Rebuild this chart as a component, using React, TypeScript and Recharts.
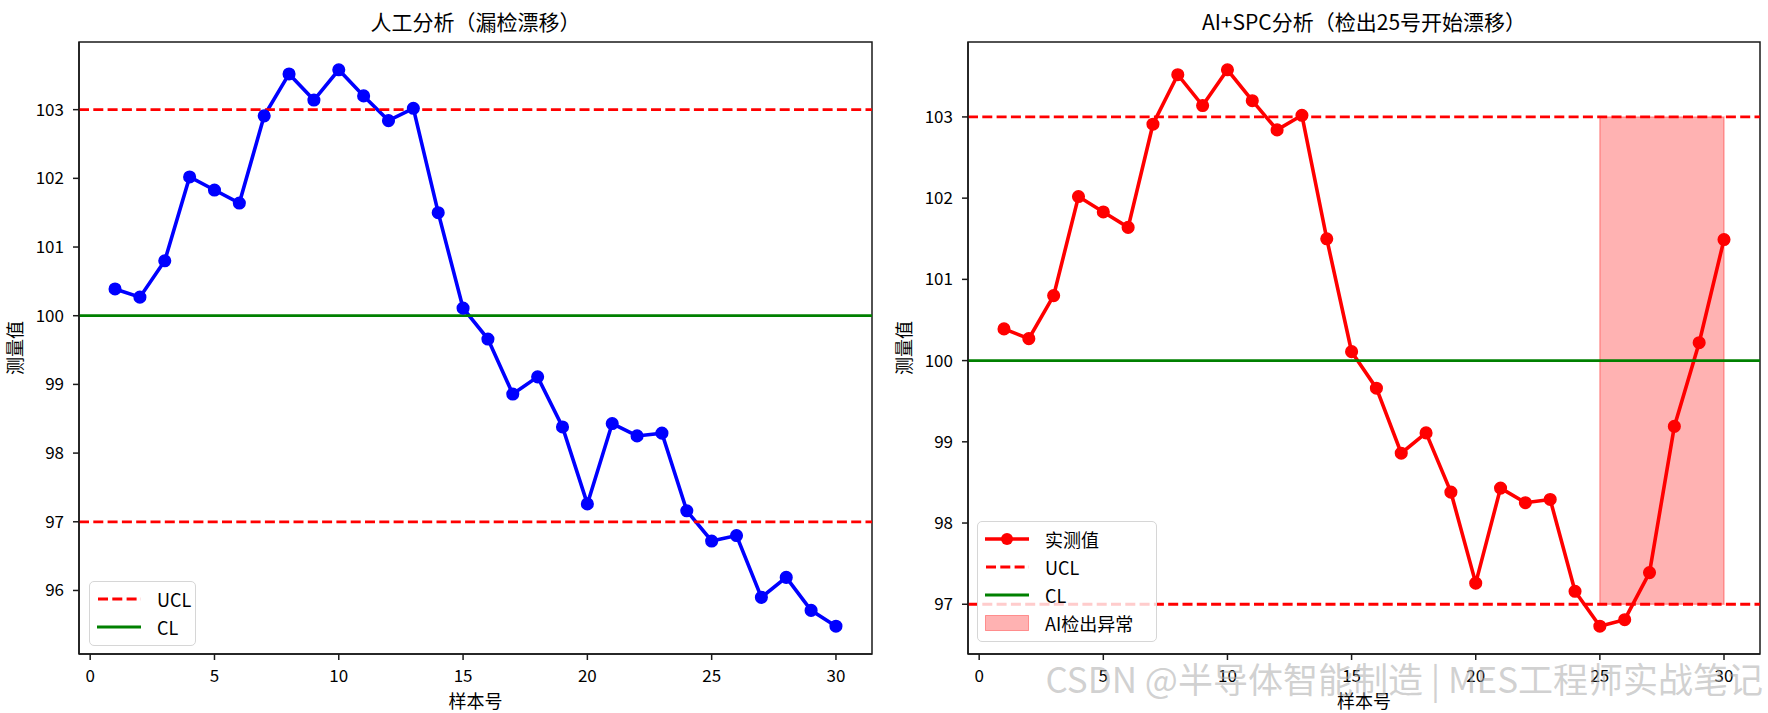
import React from 'react';
import { LineChart, Line, XAxis, YAxis, ReferenceLine, ReferenceArea } from 'recharts';

// sample numbers (x axis)
const samples = [1, 2, 3, 4, 5, 6, 7, 8, 9, 10, 11, 12, 13, 14, 15, 16, 17, 18, 19, 20, 21, 22, 23, 24, 25, 26, 27, 28, 29, 30];

// left panel: manual analysis
const manualValues = [
  100.39, 100.27, 100.8, 102.02, 101.83, 101.64, 102.91, 103.52, 103.14, 103.58,
  103.2, 102.84, 103.02, 101.5, 100.11, 99.66, 98.86, 99.11, 98.38, 97.26,
  98.43, 98.25, 98.29, 97.16, 96.72, 96.8, 95.9, 96.19, 95.71, 95.48,
];

// right panel: AI + SPC
const aiValues = [
  100.39, 100.27, 100.8, 102.02, 101.83, 101.64, 102.91, 103.52, 103.14, 103.58,
  103.2, 102.84, 103.02, 101.5, 100.11, 99.66, 98.86, 99.11, 98.38, 97.26,
  98.43, 98.25, 98.29, 97.16, 96.73, 96.81, 97.39, 99.19, 100.22, 101.49,
];

const UCL = 103;
const CL = 100;
const LCL = 97;
const anomalyStart = 25;
const anomalyEnd = 30;

const xTicks = [0, 5, 10, 15, 20, 25, 30];
const manualYTicks = [96, 97, 98, 99, 100, 101, 102, 103];
const aiYTicks = [97, 98, 99, 100, 101, 102, 103];

const leftTitle = '人工分析（漏检漂移）';
const rightTitle = 'AI+SPC分析（检出25号开始漂移）';
const xLabel = '样本号';
const yLabel = '测量值';
const watermark = 'CSDN @半导体智能制造 | MES工程师实战笔记';

const FONT = "'Noto Sans CJK SC', 'Noto Sans', sans-serif";
const W = 1768;
const H = 713;
const PANEL_W = 884;
const PLOT_TOP = 42;
const PLOT_BOTTOM = 654;
const AXIS = '#1a1a1a';

// matplotlib style 5% auto margins
function pad(vals: number[]): [number, number] {
  const lo = Math.min(...vals);
  const hi = Math.max(...vals);
  const m = (hi - lo) * 0.05;
  return [lo - m, hi + m];
}
const xDomain = pad(samples);

type LegendItem = { label: string; kind: 'marker' | 'dashed' | 'solid' | 'patch'; color: string };

function Swatch({ item }: { item: LegendItem }) {
  return (
    <svg width={44} height={20} style={{ display: 'block' }}>
      {item.kind === 'marker' && (
        <>
          <line x1={0} y1={10} x2={44} y2={10} stroke={item.color} strokeWidth={3.6} />
          <circle cx={22} cy={10} r={6} fill={item.color} />
        </>
      )}
      {item.kind === 'dashed' && (
        <line x1={1} y1={10} x2={44} y2={10} stroke={item.color} strokeWidth={2.8} strokeDasharray="10 4.3" />
      )}
      {item.kind === 'solid' && <line x1={0} y1={10} x2={44} y2={10} stroke={item.color} strokeWidth={2.8} />}
      {item.kind === 'patch' && (
        <rect x={0.5} y={2.5} width={43} height={15} fill="rgba(255,0,0,0.3)" stroke="rgba(255,0,0,0.35)" />
      )}
    </svg>
  );
}

function LegendBox({ x, y, w, items }: { x: number; y: number; w: number; items: LegendItem[] }) {
  return (
    <div
      style={{
        position: 'absolute', left: x, top: y, width: w, boxSizing: 'border-box',
        background: 'rgba(255,255,255,0.8)', border: '1.5px solid #d6d6d6', borderRadius: 5,
        padding: '2.5px 0 4px 0', fontFamily: FONT, fontSize: 18, color: '#000',
      }}
    >
      {items.map((it) => (
        <div key={it.label} style={{ height: 28, display: 'flex', alignItems: 'center' }}>
          <div style={{ marginLeft: 7, width: 44 }}><Swatch item={it} /></div>
          <div style={{ marginLeft: 16, lineHeight: '28px', whiteSpace: 'nowrap' }}>{it.label}</div>
        </div>
      ))}
    </div>
  );
}

type PanelProps = {
  left: number;
  plotLeft: number;
  plotRight: number;
  values: number[];
  color: string;
  yTicks: number[];
  title: string;
  showSpan: boolean;
  legend: { x: number; y: number; w: number; items: LegendItem[] };
};

function Panel({ left, plotLeft, plotRight, values, color, yTicks, title, showSpan, legend }: PanelProps) {
  const rows = samples.map((x, i) => ({ x, v: values[i] }));
  const yDomain = pad(values);
  const tickStyle = { fill: '#000', fontSize: 17, fontFamily: FONT };
  const axisLine = { stroke: AXIS, strokeWidth: 1.5 };
  const center = (plotLeft + plotRight) / 2;
  return (
    <div style={{ position: 'absolute', left, top: 0, width: PANEL_W, height: H }}>
      <LineChart
        width={PANEL_W}
        height={H}
        data={rows}
        margin={{ top: PLOT_TOP, right: PANEL_W - plotRight, bottom: H - PLOT_BOTTOM - 30, left: plotLeft - 60 }}
      >
        <XAxis
          dataKey="x" type="number" domain={xDomain} ticks={xTicks} interval={0} allowDataOverflow
          height={30} tickSize={6} tickMargin={10} tick={tickStyle} axisLine={axisLine} tickLine={axisLine}
        />
        <YAxis
          type="number" domain={yDomain} ticks={yTicks} interval={0} allowDataOverflow
          width={60} tickSize={6} tickMargin={9} tick={tickStyle} axisLine={axisLine} tickLine={axisLine}
        />
        {showSpan && (
          <ReferenceArea
            x1={anomalyStart} x2={anomalyEnd} y1={LCL} y2={UCL}
            fill="#ff0000" fillOpacity={0.3} stroke="#ff0000" strokeOpacity={0.3} strokeWidth={1.5}
          />
        )}
        <Line
          dataKey="v" type="linear" stroke={color} strokeWidth={3.6}
          dot={{ r: 5.8, fill: color, stroke: color, strokeWidth: 1.5 }}
          activeDot={false} isAnimationActive={false}
        />
        <ReferenceLine y={UCL} stroke="#ff0000" strokeWidth={2.8} strokeDasharray="10 4.3" />
        <ReferenceLine y={CL} stroke="#008000" strokeWidth={2.8} />
        <ReferenceLine y={LCL} stroke="#ff0000" strokeWidth={2.8} strokeDasharray="10 4.3" />
        {/* full axes frame (top and right spines) */}
        <ReferenceArea
          x1={xDomain[0]} x2={xDomain[1]} y1={yDomain[0]} y2={yDomain[1]}
          fill="none" stroke={AXIS} strokeWidth={1.5} fillOpacity={0}
        />
      </LineChart>

      <div style={{ position: 'absolute', left: center - 300, width: 600, top: 8, textAlign: 'center', fontFamily: FONT, fontSize: 21, lineHeight: '26px', color: '#000' }}>
        {title}
      </div>
      <div style={{ position: 'absolute', left: center - 100, width: 200, top: 689, textAlign: 'center', fontFamily: FONT, fontSize: 18, lineHeight: '22px', color: '#000' }}>
        {xLabel}
      </div>
      <div
        style={{
          position: 'absolute', left: plotLeft - 65 - 50, top: (PLOT_TOP + PLOT_BOTTOM) / 2 - 12, width: 100,
          textAlign: 'center', fontFamily: FONT, fontSize: 18, lineHeight: '24px', color: '#000', transform: 'rotate(-90deg)',
        }}
      >
        {yLabel}
      </div>
      <LegendBox {...legend} />
    </div>
  );
}

export default function App() {
  return (
    <div style={{ position: 'absolute', left: 0, top: 0, width: W, height: H, background: '#fff', overflow: 'hidden' }}>
      <Panel
        left={0} plotLeft={79} plotRight={872} values={manualValues} color="#0000ff"
        yTicks={manualYTicks} title={leftTitle} showSpan={false}
        legend={{
          x: 89, y: 581, w: 107,
          items: [
            { label: 'UCL', kind: 'dashed', color: '#ff0000' },
            { label: 'CL', kind: 'solid', color: '#008000' },
          ],
        }}
      />
      <Panel
        left={PANEL_W} plotLeft={84} plotRight={876} values={aiValues} color="#ff0000"
        yTicks={aiYTicks} title={rightTitle} showSpan
        legend={{
          x: 93, y: 521, w: 180,
          items: [
            { label: '实测值', kind: 'marker', color: '#ff0000' },
            { label: 'UCL', kind: 'dashed', color: '#ff0000' },
            { label: 'CL', kind: 'solid', color: '#008000' },
            { label: 'AI检出异常', kind: 'patch', color: '#ff0000' },
          ],
        }}
      />
      <div
        style={{
          position: 'absolute', right: 5, top: 655, fontFamily: FONT, fontSize: 35, lineHeight: '46px',
          color: 'rgba(170,170,170,0.55)', whiteSpace: 'nowrap', pointerEvents: 'none',
        }}
      >
        {watermark}
      </div>
    </div>
  );
}
